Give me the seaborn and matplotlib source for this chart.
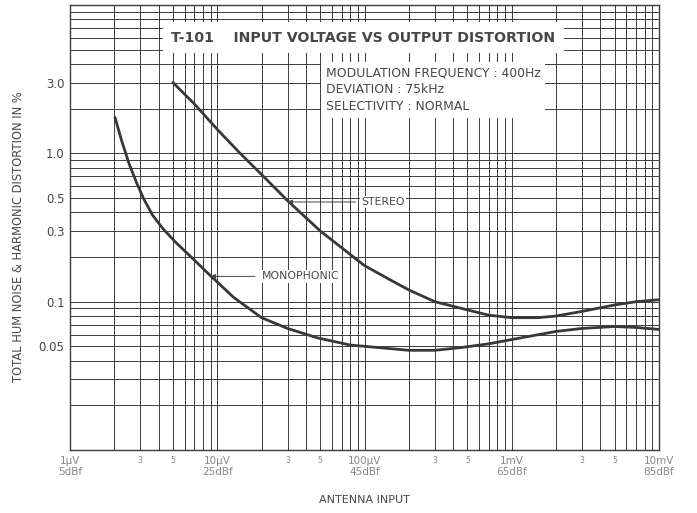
import numpy as np
import pandas as pd
import seaborn as sns
import matplotlib.pyplot as plt
from matplotlib.ticker import FixedLocator, LogLocator, NullFormatter

# antenna input (µV) vs total hum noise & harmonic distortion (%)
stereo_uv = [5.0, 7, 10, 14.3, 20, 30, 50, 87, 100, 150, 200, 300, 500, 700, 1000, 1500, 2000, 3000, 5000, 7000, 10000]
stereo_pct = [3.0, 2.15, 1.45, 1.0, 0.72, 0.48, 0.30, 0.195, 0.175, 0.14, 0.12, 0.10, 0.088, 0.081, 0.078, 0.078, 0.08, 0.086, 0.095, 0.10, 0.103]

mono_uv = [2.02, 2.24, 2.51, 2.82, 3.16, 3.63, 4.27, 5.25, 6.61, 8.91, 12.9, 20, 30, 48, 80, 200, 300, 450, 700, 1150, 2000, 3000, 5000, 7000, 10000]
mono_pct = [1.75, 1.22, 0.86, 0.64, 0.495, 0.384, 0.311, 0.25, 0.201, 0.151, 0.107, 0.078, 0.066, 0.057, 0.051, 0.047, 0.047, 0.049, 0.052, 0.057, 0.063, 0.066, 0.068, 0.067, 0.065]

x_ticks = [1, 3, 5, 10, 30, 50, 100, 300, 500, 1000, 3000, 5000, 10000]
x_labels = ["1µV\n5dBf", "3", "5", "10µV\n25dBf", "3", "5", "100µV\n45dBf",
            "3", "5", "1mV\n65dBf", "3", "5", "10mV\n85dBf"]
y_ticks = [0.05, 0.1, 0.3, 0.5, 1.0, 3.0]
y_labels = ["0.05", "0.1", "0.3", "0.5", "1.0", "3.0"]

df = pd.concat([
    pd.DataFrame({"uv": stereo_uv, "pct": stereo_pct, "mode": "STEREO"}),
    pd.DataFrame({"uv": mono_uv, "pct": mono_pct, "mode": "MONOPHONIC"}),
])

sns.set_style("white")
plt.rcParams["font.family"] = ["DejaVu Sans"]

text_c = "#4a4642"
tick_c = "#8c8882"
grid_c = "#3c3c3c"

fig = plt.figure(figsize=(6.97, 5.13), dpi=100)
ax = fig.add_axes([70 / 697, 63 / 513, 589 / 697, 445 / 513])

sns.lineplot(data=df, x="uv", y="pct", hue="mode", palette=["#3a3836", "#3a3836"],
             linewidth=2.0, legend=False, ax=ax, estimator=None, sort=True)

ax.set_xscale("log")
ax.set_yscale("log")
ax.set_xlim(1, 10000)
ax.set_ylim(0.01, 10)

ax.xaxis.set_minor_locator(LogLocator(base=10, subs=np.arange(1, 10)))
ax.yaxis.set_minor_locator(LogLocator(base=10, subs=np.arange(1, 10)))
ax.xaxis.set_minor_formatter(NullFormatter())
ax.yaxis.set_minor_formatter(NullFormatter())
ax.grid(which="minor", color=grid_c, linewidth=0.7)
ax.grid(which="major", color=grid_c, linewidth=0.7)

ax.xaxis.set_major_locator(FixedLocator(x_ticks))
ax.set_xticklabels(x_labels)
ax.yaxis.set_major_locator(FixedLocator(y_ticks))
ax.set_yticklabels(y_labels)
ax.tick_params(which="both", length=0)
ax.tick_params(axis="x", pad=4, colors=tick_c, labelsize=7.5)
ax.tick_params(axis="y", pad=4, colors=text_c, labelsize=8.5)
for lab in ax.get_xticklabels():
    if "\n" not in lab.get_text():
        lab.set_fontsize(5.5)

for s in ax.spines.values():
    s.set_color(grid_c)
    s.set_linewidth(1.0)

ax.set_xlabel("ANTENNA INPUT", color=text_c, fontsize=8)
ax.xaxis.set_label_coords(0.5, -0.112)
ax.xaxis.label.set_va("center")
ax.set_ylabel("TOTAL HUM NOISE & HARMONIC DISTORTION IN %", color=text_c, fontsize=8.3)
ax.yaxis.set_label_coords(-0.088, 0.479)
ax.yaxis.label.set_va("center")

ax.text(0.498, 0.926, "T-101    INPUT VOLTAGE VS OUTPUT DISTORTION", transform=ax.transAxes,
        ha="center", va="center", fontsize=10.2, fontweight="bold", color=text_c,
        bbox=dict(facecolor="white", edgecolor="none", boxstyle="square,pad=0.6"))
ax.text(0.434, 0.809, "MODULATION FREQUENCY : 400Hz\nDEVIATION : 75kHz\nSELECTIVITY : NORMAL",
        transform=ax.transAxes, ha="left", va="center", fontsize=8.9, color=text_c,
        linespacing=1.4,
        bbox=dict(facecolor="white", edgecolor="none", boxstyle="square,pad=0.4"))

arrow = dict(arrowstyle="-|>", color=text_c, lw=0.7, mutation_scale=7, shrinkA=0, shrinkB=0)
ax.annotate("", xy=(30, 0.47), xytext=(87, 0.47), arrowprops=arrow)
ax.text(95, 0.47, "STEREO", ha="left", va="center", fontsize=7.8, color=text_c,
        bbox=dict(facecolor="white", edgecolor="none", pad=1))
ax.annotate("", xy=(9.0, 0.148), xytext=(18, 0.148), arrowprops=arrow)
ax.text(20, 0.148, "MONOPHONIC", ha="left", va="center", fontsize=7.8, color=text_c,
        bbox=dict(facecolor="white", edgecolor="none", pad=1))

fig.savefig("out.png", dpi=100)
